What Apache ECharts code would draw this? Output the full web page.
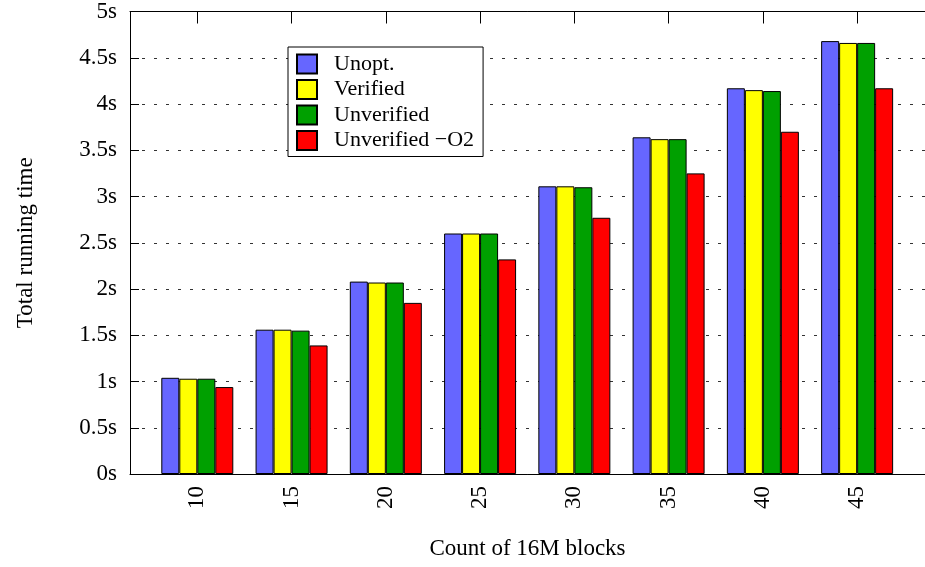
<!DOCTYPE html>
<html>
<head>
<meta charset="utf-8">
<script src="https://cdn.jsdelivr.net/npm/echarts@6/dist/echarts.min.js"></script>
<style>
  html, body { margin: 0; padding: 0; background: #fff; }
  #chart { width: 925px; height: 567px; }
</style>
</head>
<body>
<div id="chart"></div>
<script>
// Block counts (x groups) and running times in seconds per build variant
const categories = ['10', '15', '20', '25', '30', '35', '40', '45'];
const unopt       = [1.04, 1.56, 2.08, 2.60, 3.11, 3.64, 4.17, 4.68];
const verified    = [1.03, 1.56, 2.07, 2.60, 3.11, 3.62, 4.15, 4.66];
const unverified  = [1.03, 1.55, 2.07, 2.60, 3.10, 3.62, 4.14, 4.66];
const unverifiedO2 = [0.94, 1.39, 1.85, 2.32, 2.77, 3.25, 3.70, 4.17];
const yTicks = [0, 0.5, 1, 1.5, 2, 2.5, 3, 3.5, 4, 4.5, 5];

const seriesDefs = [
  { name: 'Unopt.', data: unopt, color: '#6666ff' },
  { name: 'Verified', data: verified, color: '#ffff00' },
  { name: 'Unverified', data: unverified, color: '#00a000' },
  { name: 'Unverified \u2212O2', data: unverifiedO2, color: '#ff0000' }
];

const font = 'Liberation Serif, Times New Roman, serif';
const idx = categories.map((c, i) => i);

const chart = echarts.init(document.getElementById('chart'), null, { renderer: 'canvas' });

const xBase = {
  type: 'value',
  min: -0.714,
  max: 7.72,
  splitLine: { show: false },
  axisLine: { show: true, onZero: false, lineStyle: { color: '#000', width: 1 } }
};

chart.setOption({
  animation: false,
  backgroundColor: '#fff',
  textStyle: { fontFamily: font },
  grid: { left: 130, top: 10, width: 804, bottom: 93, containLabel: false },
  legend: {
    orient: 'vertical',
    left: 288,
    top: 47,
    padding: [6, 9, 5, 8],
    itemWidth: 20,
    itemHeight: 19,
    itemGap: 3.5,
    icon: 'rect',
    backgroundColor: '#fff',
    borderColor: '#000',
    borderWidth: 1,
    textStyle: { fontFamily: font, fontSize: 22, color: '#000', padding: [0, 0, 0, 12] },
    data: seriesDefs.map(s => s.name)
  },
  xAxis: [
    Object.assign({}, xBase, {
      position: 'bottom',
      name: 'Count of 16M blocks',
      nameLocation: 'middle',
      nameGap: 63,
      nameTextStyle: { fontFamily: font, fontSize: 23, color: '#000' },
      axisTick: { show: false },
      axisLabel: {
        customValues: idx,
        rotate: 90,
        margin: 12,
        fontFamily: font,
        fontSize: 23,
        color: '#000',
        formatter: v => categories[Math.round(v)]
      }
    }),
    Object.assign({}, xBase, {
      position: 'top',
      axisTick: {
        show: true,
        customValues: idx,
        inside: true,
        length: 12,
        lineStyle: { color: '#000', width: 1 }
      },
      axisLabel: { show: false }
    })
  ],
  yAxis: {
    type: 'value',
    min: 0,
    max: 5,
    interval: 0.5,
    name: 'Total running time',
    nameLocation: 'middle',
    nameGap: 93,
    nameTextStyle: { fontFamily: font, fontSize: 23, color: '#000' },
    axisLine: { show: true, onZero: false, lineStyle: { color: '#000', width: 1 } },
    axisTick: { show: true, inside: true, length: 9, lineStyle: { color: '#000' } },
    axisLabel: {
      margin: 13,
      fontFamily: font,
      fontSize: 23,
      color: '#000',
      formatter: v => (yTicks.indexOf(v) >= 0 ? v + 's' : '')
    },
    splitLine: { show: true, lineStyle: { color: '#333', type: [3, 9], width: 1 } }
  },
  series: seriesDefs.map(s => ({
    name: s.name,
    type: 'bar',
    xAxisIndex: 0,
    barWidth: 18,
    barGap: '0%',
    data: s.data.map((v, i) => [i, v]),
    itemStyle: { color: s.color, borderColor: '#000', borderWidth: 1 }
  }))
});
</script>
</body>
</html>
